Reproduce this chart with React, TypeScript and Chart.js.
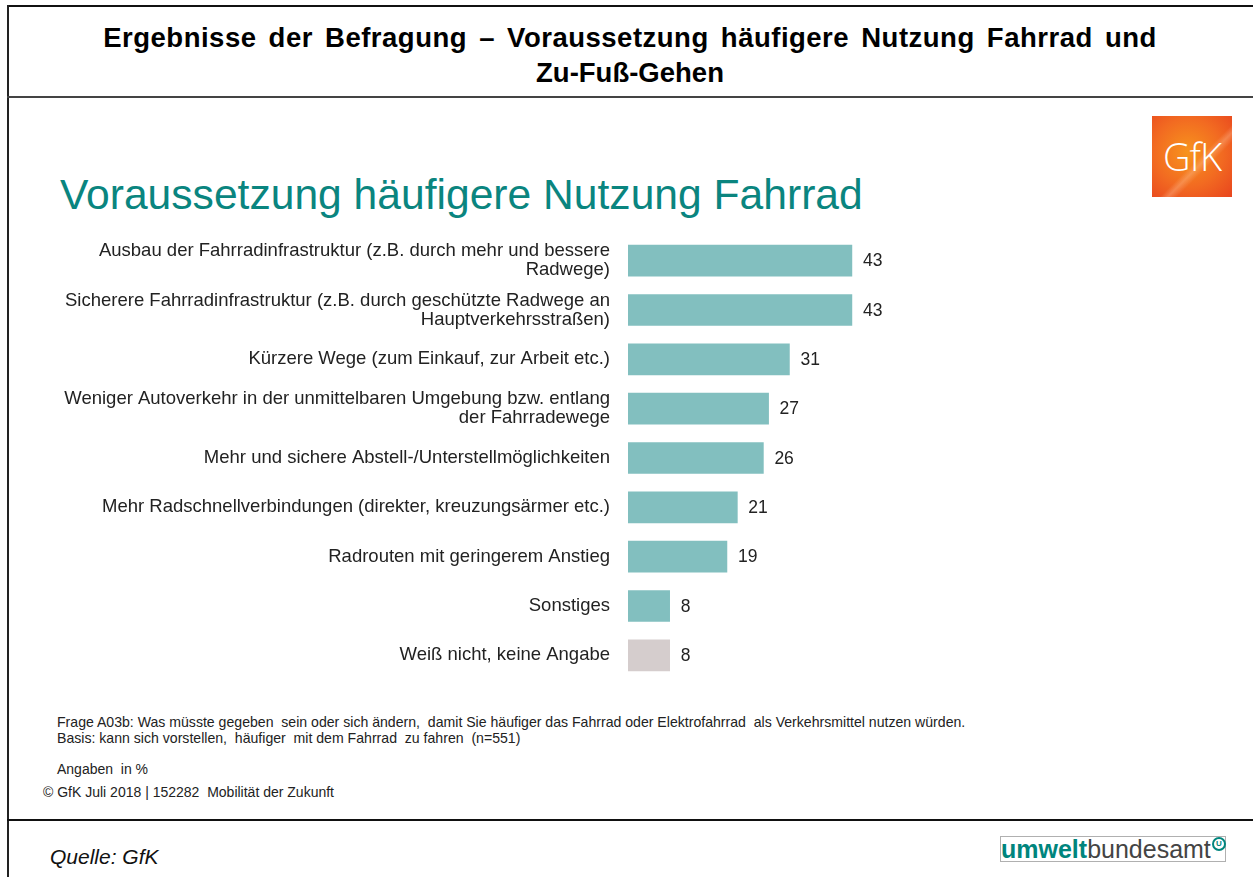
import React, { useEffect, useRef } from "react";
import { Chart, registerables } from "chart.js";

Chart.register(...registerables);

const categories: (string | string[])[] = [
  ["Ausbau der Fahrradinfrastruktur (z.B. durch mehr und bessere", "Radwege)"],
  ["Sicherere Fahrradinfrastruktur (z.B. durch geschützte Radwege an", "Hauptverkehrsstraßen)"],
  "Kürzere Wege (zum Einkauf, zur Arbeit etc.)",
  ["Weniger Autoverkehr in der unmittelbaren Umgebung bzw. entlang", "der Fahrradewege"],
  "Mehr und sichere Abstell-/Unterstellmöglichkeiten",
  "Mehr Radschnellverbindungen (direkter, kreuzungsärmer etc.)",
  "Radrouten mit geringerem Anstieg",
  "Sonstiges",
  "Weiß nicht, keine Angabe",
];

const values: number[] = [43, 43, 31, 27, 26, 21, 19, 8, 8];

const barColors: string[] = [
  "#82BFBF", "#82BFBF", "#82BFBF", "#82BFBF", "#82BFBF",
  "#82BFBF", "#82BFBF", "#82BFBF", "#D5CDCD",
];

const FONT = "'Liberation Sans', Arial, sans-serif";

const valueLabels = {
  id: "valueLabels",
  afterDatasetsDraw(chart: any) {
    const ctx = chart.ctx;
    const meta = chart.getDatasetMeta(0);
    ctx.save();
    ctx.font = `17.5px ${FONT}`;
    ctx.fillStyle = "#222222";
    ctx.textAlign = "left";
    ctx.textBaseline = "middle";
    meta.data.forEach((bar: any, i: number) => {
      ctx.fillText(String(values[i]), bar.x + 11, bar.y + 1);
    });
    ctx.restore();
  },
};

function BarChart() {
  const ref = useRef<HTMLCanvasElement | null>(null);
  useEffect(() => {
    if (!ref.current) return;
    const chart = new Chart(ref.current, {
      type: "bar",
      data: {
        labels: categories,
        datasets: [
          {
            data: values,
            backgroundColor: barColors,
            borderWidth: 0,
            barThickness: 31,
          },
        ],
      },
      options: {
        indexAxis: "y",
        responsive: false,
        animation: false,
        layout: { padding: 0 },
        plugins: {
          legend: { display: false },
          tooltip: { enabled: false },
        },
        scales: {
          x: {
            display: false,
            min: 0,
            max: 58,
          },
          y: {
            grid: { display: false },
            border: { display: false },
            afterFit: (scale: any) => {
              scale.width = 598;
              scale.paddingTop = 0;
              scale.paddingBottom = 0;
            },
            ticks: {
              padding: 10,
              color: "#222222",
              font: { family: FONT, size: 18.5, lineHeight: 1.03 },
              autoSkip: false,
            },
          },
        },
      },
      plugins: [valueLabels],
    });
    return () => chart.destroy();
  }, []);
  return (
    <canvas
      ref={ref}
      width={900}
      height={444}
      style={{ position: "absolute", left: 30, top: 236, width: 900, height: 444 }}
    />
  );
}

export default function App() {
  const abs = (s: React.CSSProperties): React.CSSProperties => ({ position: "absolute", ...s });
  return (
    <div
      style={{
        position: "absolute",
        left: 0,
        top: 0,
        width: 1253,
        height: 877,
        background: "#ffffff",
        overflow: "hidden",
        fontFamily: FONT,
        color: "#222",
      }}
    >
      {/* frame */}
      <div style={abs({ left: 7, top: 5, width: 1246, height: 2, background: "#111" })} />
      <div style={abs({ left: 7, top: 5, width: 2, height: 872, background: "#222" })} />
      <div style={abs({ left: 7, top: 96, width: 1246, height: 2, background: "#444" })} />
      <div style={abs({ left: 7, top: 819, width: 1246, height: 2, background: "#111" })} />

      {/* header title */}
      <div
        style={abs({
          left: 7,
          top: 20,
          width: 1246,
          textAlign: "center",
          fontWeight: "bold",
          fontSize: 27.5,
          lineHeight: "35px",
          color: "#000",
          whiteSpace: "nowrap",
        })}
      >
        <span style={{ letterSpacing: 0.5, wordSpacing: 4 }}>
          Ergebnisse der Befragung – Voraussetzung häufigere Nutzung Fahrrad und
        </span>
        <br />
        Zu-Fuß-Gehen
      </div>

      {/* GfK logo */}
      <div
        style={abs({
          left: 1152,
          top: 116,
          width: 80,
          height: 81,
          background:
            "linear-gradient(135deg, rgba(255,255,255,0.0) 55%, rgba(255,200,160,0.35) 60%, rgba(255,255,255,0) 66%), radial-gradient(circle at 45% 45%, #F7941D 0%, #F26A21 55%, #E8451E 100%)",
          color: "#fff",
          fontSize: 38,
          fontWeight: 300,
          textAlign: "center",
          lineHeight: "81px",
          letterSpacing: -1,
          fontFamily: "'Open Sans', " + FONT,
        })}
      >
        GfK
      </div>

      {/* subtitle */}
      <div
        style={abs({
          left: 60,
          top: 170,
          fontSize: 42.6,
          lineHeight: "48px",
          color: "#0A857F",
          whiteSpace: "nowrap",
        })}
      >
        Voraussetzung häufigere Nutzung Fahrrad
      </div>

      <BarChart />

      {/* footnotes */}
      <div style={abs({ left: 57, top: 714, fontSize: 14.1, lineHeight: "16px", whiteSpace: "pre" })}>
        {"Frage A03b: Was müsste gegeben  sein oder sich ändern,  damit Sie häufiger das Fahrrad oder Elektrofahrrad  als Verkehrsmittel nutzen würden."}
        <br />
        {"Basis: kann sich vorstellen,  häufiger  mit dem Fahrrad  zu fahren  (n=551)"}
      </div>
      <div style={abs({ left: 57, top: 761, fontSize: 14, lineHeight: "16px", whiteSpace: "pre" })}>
        {"Angaben  in %"}
      </div>
      <div style={abs({ left: 43, top: 784, fontSize: 14, lineHeight: "16px", whiteSpace: "pre" })}>
        {"© GfK Juli 2018 | 152282  Mobilität der Zukunft"}
      </div>

      {/* source */}
      <div
        style={abs({
          left: 50,
          top: 845,
          fontSize: 21,
          lineHeight: "24px",
          fontStyle: "italic",
          color: "#111",
        })}
      >
        Quelle: GfK
      </div>

      {/* UBA logo */}
      <div
        style={abs({
          left: 1000,
          top: 836,
          width: 224,
          height: 24,
          border: "1px solid #B0B0B0",
          fontSize: 25,
          lineHeight: "24px",
          whiteSpace: "nowrap",
          overflow: "visible",
        })}
      >
        <span style={{ color: "#00857D", fontWeight: "bold" }}>umwelt</span>
        <span style={{ color: "#444" }}>bundesamt</span>
        <span
          style={{
            position: "absolute",
            right: -1,
            top: 0,
            width: 10,
            height: 10,
            borderRadius: "50%",
            border: "2px solid #00857D",
            fontSize: 8,
            lineHeight: "10px",
            textAlign: "center",
            color: "#00857D",
            fontWeight: "bold",
          }}
        >
          U
        </span>
      </div>
    </div>
  );
}
